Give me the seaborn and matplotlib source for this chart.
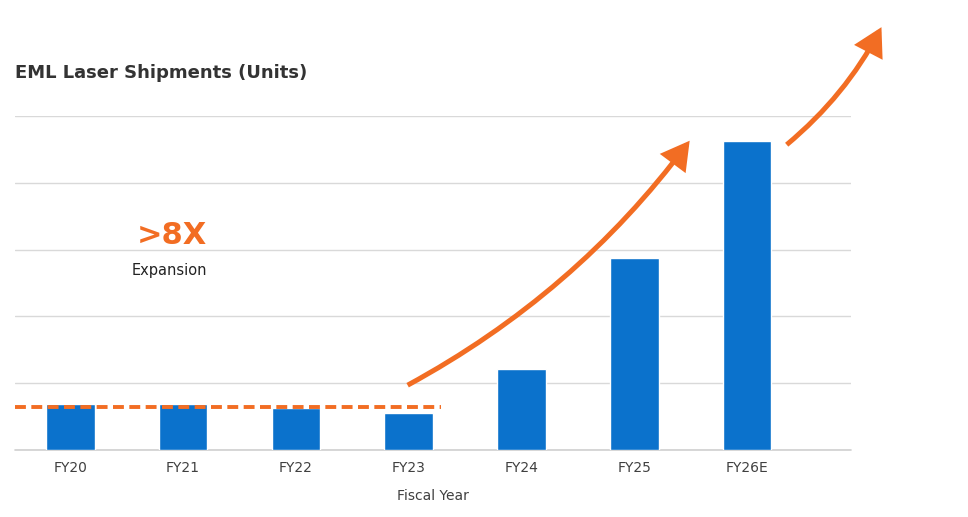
import matplotlib
matplotlib.use("Agg")
import matplotlib.pyplot as plt
import seaborn as sns
import pandas as pd

# data (units in gridline steps, axis has no labels)
years = ["FY20", "FY21", "FY22", "FY23", "FY24", "FY25", "FY26E"]
shipments = [0.69, 0.69, 0.63, 0.55, 1.21, 2.87, 4.63]
baseline_level = 0.64

blue = "#0B72CC"
orange = "#F26D23"

sns.set_theme(style="white")
plt.rcParams["font.family"] = ["DejaVu Sans"]

df = pd.DataFrame({"year": years, "units": shipments})

fig = plt.figure(figsize=(9.68, 5.17), dpi=100)
ax = fig.add_axes([15 / 968, 67 / 517, 836 / 968, 334 / 517])

sns.barplot(data=df, x="year", y="units", color=blue, saturation=1,
            width=0.43, ax=ax, zorder=3)

ax.set_ylim(0, 5)
ax.set_xlim(-0.49, 6.92)
ax.set_yticks([0, 1, 2, 3, 4, 5])
ax.set_yticklabels([])
ax.yaxis.grid(True, color="#d9d9d9", linewidth=1)
ax.axhline(0, color="#d0d0d0", linewidth=1.2, clip_on=False, zorder=2)
ax.set_axisbelow(True)
for s in ax.spines.values():
    s.set_visible(False)
ax.tick_params(axis="both", length=0)
ax.tick_params(axis="x", labelsize=10, labelcolor="#404040", pad=8)
ax.set_xlabel("Fiscal Year", fontsize=10, color="#404040", labelpad=10)
ax.set_ylabel("")

# dashed reference level for FY20-FY23
ax.plot([-0.49, 3.29], [baseline_level, baseline_level], color=orange,
        linewidth=2.8, linestyle=(0, (2.8, 1.4)), zorder=4, clip_on=False)

# growth arrows
arrow_kw = dict(arrowstyle="-|>,head_length=15,head_width=8.5", mutation_scale=1,
                color=orange, linewidth=3.6, shrinkA=0, shrinkB=0,
                joinstyle="miter", capstyle="butt")
ax.annotate("", xy=(5.49, 4.63), xytext=(2.99, 0.97),
            arrowprops=dict(connectionstyle="arc3,rad=0.11", **arrow_kw),
            annotation_clip=False, zorder=5)
ax.annotate("", xy=(7.19, 6.33), xytext=(6.35, 4.57),
            arrowprops=dict(connectionstyle="arc3,rad=0.1", **arrow_kw),
            annotation_clip=False, zorder=5)

fig.text(15 / 968, 1 - 73 / 517, "EML Laser Shipments (Units)", fontsize=13,
         fontweight="bold", color="#333333", ha="left", va="center")
fig.text(172 / 968, 1 - 235 / 517, ">8X", fontsize=22, fontweight="bold",
         color=orange, ha="center", va="center")
fig.text(169 / 968, 1 - 270 / 517, "Expansion", fontsize=10.5,
         color="#222222", ha="center", va="center")

fig.savefig("out.png", dpi=100)
